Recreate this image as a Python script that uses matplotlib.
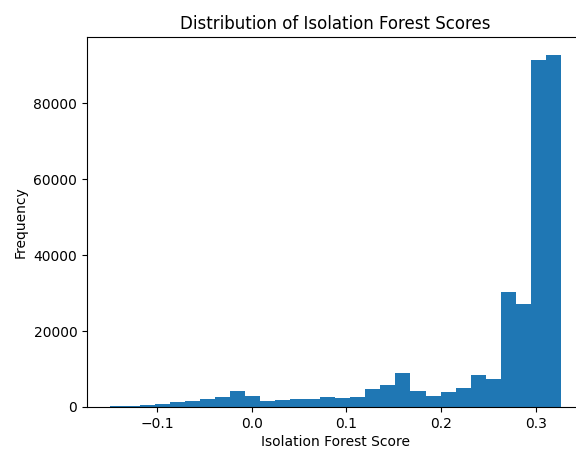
import numpy as np
import matplotlib
matplotlib.use("Agg")
import matplotlib.pyplot as plt

# histogram of isolation forest scores (30 bins), counts
score_min = -0.150
score_max = 0.3264
n_bins = 30
counts = [150, 250, 400, 700, 1200, 1600, 2000, 2500, 4200, 3000,
          1700, 1900, 2000, 2200, 2500, 2400, 2600, 4800, 5700, 9000,
          4300, 3000, 3900, 5000, 8500, 7500, 30200, 27000, 91300, 92800]

edges = np.linspace(score_min, score_max, n_bins + 1)
centers = (edges[:-1] + edges[1:]) / 2

fig = plt.figure(figsize=(5.76, 4.5), dpi=100)
ax = fig.add_axes([0.151, 0.0956, 0.862, 0.822])

ax.hist(centers, bins=edges, weights=counts, color='#1f77b4')

# the original image is cut just before the right spine
ax.spines['right'].set_visible(False)

ax.set_title('Distribution of Isolation Forest Scores', fontsize=12)
ax.set_xlabel('Isolation Forest Score', fontsize=10, labelpad=3)
ax.set_ylabel('Frequency', fontsize=10)
ax.tick_params(labelsize=10)

fig.savefig('out.png', dpi=100, facecolor='white')
